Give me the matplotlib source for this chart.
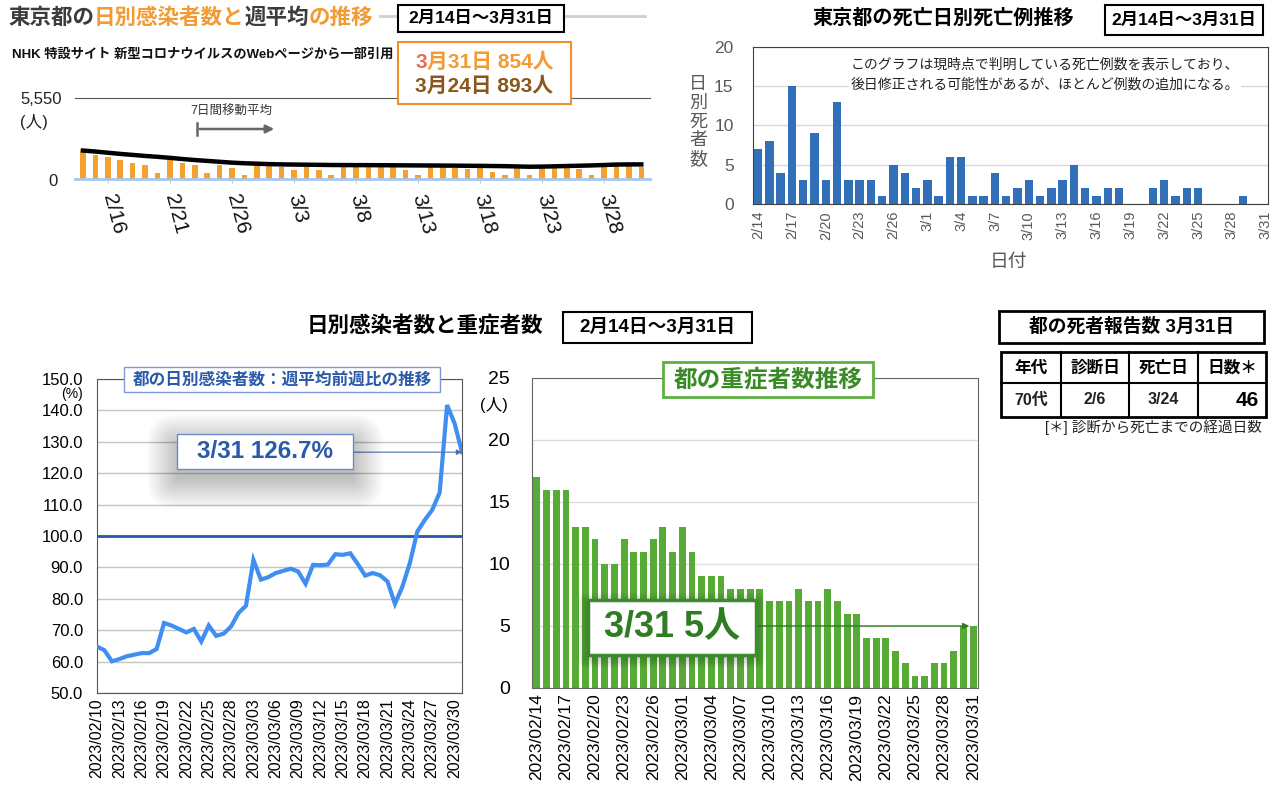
import matplotlib
matplotlib.use('Agg')
from matplotlib import pyplot as plt
from matplotlib.patches import Rectangle, FancyBboxPatch
import numpy as np
import pandas as pd

plt.rcParams['font.family'] = ['Liberation Sans', 'Noto Sans CJK JP', 'DejaVu Sans']

# ---- data ----
days = pd.date_range('2023-02-14', '2023-03-31')
days_ratio = pd.date_range('2023-02-10', '2023-03-31')

new_cases = [2075, 1665, 1505, 1280, 1095, 935, 410, 1280, 1095, 935,
             410, 935, 755, 250, 980, 935, 820, 595, 865, 595,
             250, 820, 820, 800, 800, 790, 600, 250, 810, 800,
             780, 700, 720, 450, 280, 720, 260, 760, 893, 720,
             700, 300, 1000, 1050, 1000, 854]
avg7 = [1950, 1880, 1800, 1720, 1650, 1580, 1520, 1450, 1370, 1300,
        1240, 1180, 1120, 1080, 1050, 1020, 1000, 990, 980, 970,
        960, 955, 950, 950, 945, 940, 935, 930, 925, 920,
        915, 905, 900, 890, 880, 860, 840, 850, 870, 890,
        910, 930, 960, 990, 1000, 1000]
deaths = [7, 8, 4, 15, 3, 9, 3, 13, 3, 3, 3, 1, 5, 4, 2, 3, 1, 6, 6, 1, 1, 4, 1,
          2, 3, 1, 2, 3, 5, 2, 1, 2, 2, 0, 0, 2, 3, 1, 2, 2, 0, 0, 0, 1, 0, 0]
severe = [17, 16, 16, 16, 13, 13, 12, 10, 10, 12, 11, 11, 12, 13, 11, 13, 11, 9, 9, 9,
          8, 8, 8, 8, 7, 7, 7, 8, 7, 7, 8, 7, 6, 6, 4, 4, 4, 3, 2, 1, 1, 2, 2, 3, 5, 5]
ratio = [64.8, 63.6, 60.1, 60.8, 61.7, 62.2, 62.7, 62.7, 64.0, 72.3,
         71.5, 70.4, 69.3, 70.4, 66.4, 71.5, 68.2, 68.9, 71.2, 75.5,
         77.8, 92.4, 86.1, 86.9, 88.2, 88.9, 89.6, 88.7, 84.8, 90.8,
         90.7, 90.9, 94.2, 94.0, 94.5, 91.1, 87.4, 88.2, 87.5, 85.5,
         78.4, 83.9, 91.4, 101.4, 105.1, 108.3, 113.8, 141.7, 135.9, 126.7]

table_head = ['年代', '診断日', '死亡日', '日数＊']
table_row = ['70代', '2/6', '3/24', '46']

ORANGE = '#f39a33'
DARK = '#3c3c3c'
BLUE_TXT = '#2a5aa8'

W, H = 1280, 799
fig = plt.figure(figsize=(12.8, 7.99), dpi=100)


def rect(x0, y0, x1, y1):
    return [x0 / W, 1 - y1 / H, (x1 - x0) / W, (y1 - y0) / H]


# overlay in pixel units for the free text and boxes
ov = fig.add_axes([0, 0, 1, 1], zorder=5)
ov.set_xlim(0, W)
ov.set_ylim(H, 0)
ov.axis('off')


def boxed(x0, y0, x1, y1, txt, size, color='black', ec='black', lw=1.5, weight='bold'):
    ov.add_patch(Rectangle((x0, y0), x1 - x0, y1 - y0, fc='white', ec=ec, lw=lw, zorder=3))
    ov.text((x0 + x1) / 2, (y0 + y1) / 2, txt, ha='center', va='center',
            fontsize=size, color=color, weight=weight, zorder=4)


def color_line(x, y, parts, **kw):
    r = fig.canvas.get_renderer()
    for s, c in parts:
        t = ov.text(x, y, s, color=c, ha='left', va='center', zorder=4, **kw)
        x += t.get_window_extent(renderer=r).width


def shadow(x0, y0, x1, y1, n=14, step=2.2, alpha=0.02, dy=6):
    for k in range(n):
        e = k * step
        ov.add_patch(FancyBboxPatch((x0 - e, y0 - e + dy), x1 - x0 + 2 * e, y1 - y0 + 2 * e,
                                    boxstyle='round,pad=0,rounding_size=%f' % max(e, 0.1),
                                    fc='black', ec='none', alpha=alpha, zorder=2))


# ---------------- top left: NHK daily cases ----------------
ov.plot([380, 645], [16, 16], color='#cfcfcf', lw=2, zorder=1)
color_line(8, 18, [('東京都の', DARK), ('日別感染者数と', ORANGE), ('週平均', DARK), ('の推移', ORANGE)],
           fontsize=15.5, weight='bold')
boxed(398, 5, 564, 32, '2月14日〜3月31日', 12.5)
ov.text(12, 55, 'NHK 特設サイト 新型コロナウイルスのWebページから一部引用', fontsize=9.5,
        weight='bold', va='center', color='#111111')
ov.add_patch(Rectangle((398, 42), 173, 62, fc='white', ec='#f0902a', lw=1.5, zorder=3))
color_line(415, 62, [('3', '#ec6a5c'), ('月31日 854人', ORANGE)], fontsize=15, weight='bold')
color_line(415, 86, [('3月24日 893人', '#8b561c')], fontsize=15, weight='bold')
ov.text(20, 100, '5,550', fontsize=12, va='center', color='#222222')
ov.text(20, 122, '(人)', fontsize=12, va='center', color='#222222')
ov.text(48, 181, '0', fontsize=12, va='center', color='#222222')
ov.text(231, 112, '7日間移動平均', fontsize=9, ha='center', va='center', color='#333333')
ov.plot([197, 197], [123, 135], color='#666666', lw=1.8)
ov.annotate('', xy=(277, 129), xytext=(197, 129),
            arrowprops=dict(arrowstyle='-|>', color='#666666', lw=1.8, mutation_scale=12))

ax1 = fig.add_axes(rect(75, 98, 650, 179))
x1 = np.arange(len(new_cases))
ax1.bar(x1, new_cases, width=0.45, color='#f5a130', zorder=2)
ax1.plot(x1, avg7, color='black', lw=3.2, zorder=3)
ax1.set_xlim(-0.65, 45.7)
ax1.set_ylim(0, 5550)
ax1.set_yticks([])
t1 = list(range(2, len(days), 5))
ax1.set_xticks(t1)
ax1.set_xticklabels([f'{days[i].month}/{days[i].day}' for i in t1], rotation=-75,
                    rotation_mode='anchor', ha='left', va='center', fontsize=15, color='#111111')
ax1.tick_params(axis='x', length=3, color='#cccccc', pad=8)
for s in ['left', 'right']:
    ax1.spines[s].set_visible(False)
ax1.spines['top'].set_color('#555555')
ax1.spines['bottom'].set_color('#a9c6ee')
ax1.spines['bottom'].set_linewidth(2)

# ---------------- top right: deaths ----------------
ov.text(943, 18, '東京都の死亡日別死亡例推移', fontsize=14.5, weight='bold', ha='center', va='center')
boxed(1105, 5, 1263, 35, '2月14日〜3月31日', 12.5)

ax2 = fig.add_axes(rect(753, 47, 1268, 204))
x2 = np.arange(len(deaths))
ax2.bar(x2, deaths, width=0.75, color='#3170b8', zorder=2)
ax2.set_xlim(-0.45, 45.2)
ax2.set_ylim(0, 20)
ax2.set_yticks([0, 5, 10, 15, 20])
ax2.grid(axis='y', color='#d9d9d9', lw=1, zorder=0)
t2 = list(range(0, len(days), 3))
ax2.set_xticks(t2)
ax2.set_xticklabels([f'{days[i].month}/{days[i].day}' for i in t2], rotation=90, fontsize=10.5,
                    color='#595959')
ax2.tick_params(axis='y', labelsize=12.5, labelcolor='#595959', length=0, pad=14)
ax2.tick_params(axis='x', length=0, pad=5)
for s in ax2.spines.values():
    s.set_color('#404040')
ov.text(698, 122, '日\n別\n死\n者\n数', fontsize=13, ha='center', va='center', color='#595959',
        linespacing=1.12)
ov.text(1008, 262, '日付', fontsize=13.5, ha='center', va='center', color='#595959')
for yy, line in [(65, 'このグラフは現時点で判明している死亡例数を表示しており、'),
                 (85, '後日修正される可能性があるが、ほとんど例数の追加になる。')]:
    ov.text(1045, yy, line, fontsize=10, ha='center', va='center', color='#222222',
            bbox=dict(fc='white', ec='none', pad=1.5))

# ---------------- bottom titles ----------------
ov.text(425, 327, '日別感染者数と重症者数', fontsize=15.5, weight='bold', ha='center', va='center')
boxed(563, 312, 752, 343, '2月14日〜3月31日', 13.5)

# ---------------- bottom left: week-over-week ratio ----------------
ax3 = fig.add_axes(rect(97, 379, 462, 693))
x3 = np.arange(len(ratio))
ax3.plot(x3, ratio, color='#3f8ff2', lw=3, zorder=3, solid_joinstyle='miter')
ax3.axhline(100, color='#2457a5', lw=2, zorder=2)
ax3.set_xlim(0, len(ratio) - 1)
ax3.set_ylim(50, 150)
ax3.set_yticks(np.arange(50, 151, 10))
ax3.set_yticklabels([f'{v:.1f}' for v in np.arange(50, 151, 10)])
ax3.grid(axis='y', color='#c4c4c4', lw=1, zorder=0)
t3 = list(range(0, len(ratio), 3))
ax3.set_xticks(t3)
ax3.set_xticklabels([days_ratio[i].strftime('%Y/%m/%d') for i in t3], rotation=90, fontsize=11.5)
ax3.tick_params(axis='y', labelsize=12, length=0, pad=10)
ax3.tick_params(axis='x', length=0, pad=4)
for s in ax3.spines.values():
    s.set_color('#555555')
ov.text(72, 394, '(%)', fontsize=10, ha='center', va='center')
ov.add_patch(Rectangle((124, 367), 316, 25, fc='white', ec='#7c9bd6', lw=1, zorder=3))
ov.text(282, 379.5, '都の日別感染者数：週平均前週比の推移', fontsize=12, weight='bold', ha='center',
        va='center', color=BLUE_TXT, zorder=4)
shadow(177, 434, 353, 469, n=16, step=2.0, alpha=0.014, dy=10)
boxed(177, 434, 353, 469, '3/31 126.7%', 17.5, color=BLUE_TXT, ec='#6a8bcc', lw=1)
ax3.annotate('', xy=(len(ratio) - 1, ratio[-1]), xytext=((353 - 97) / 365, ratio[-1]),
             xycoords='data', textcoords=('axes fraction', 'data'),
             arrowprops=dict(arrowstyle='-|>', color='#4a6fb0', lw=0.8, mutation_scale=8,
                             shrinkA=0, shrinkB=0), annotation_clip=False)

# ---------------- bottom middle: severe cases ----------------
ax4 = fig.add_axes(rect(532, 378, 978, 688))
x4 = np.arange(len(severe))
ax4.bar(x4, severe, width=0.7, color='#55ab35', zorder=2)
ax4.set_xlim(-0.5, len(severe) - 0.5)
ax4.set_ylim(0, 25)
ax4.set_yticks([0, 5, 10, 15, 20, 25])
ax4.grid(axis='y', color='#dddddd', lw=1, zorder=0)
t4 = list(range(0, len(severe), 3))
ax4.set_xticks(t4)
ax4.set_xticklabels([days[i].strftime('%Y/%m/%d') for i in t4], rotation=90, fontsize=12.5)
ax4.tick_params(axis='y', labelsize=14, length=0, pad=16)
ax4.tick_params(axis='x', length=0, pad=4)
for s in ax4.spines.values():
    s.set_color('#666666')
ov.text(494, 405, '(人)', fontsize=12, ha='center', va='center')
boxed(663, 362, 873, 397, '都の重症者数推移', 17, color='#3a8a28', ec='#5cb040', lw=2)
shadow(588, 600, 756, 655, n=6, step=2, alpha=0.04, dy=3)
boxed(588, 600, 756, 655, '3/31 5人', 26, color='#2e7d22', ec='#3d8b2f', lw=2.5)
ax4.annotate('', xy=(len(severe) - 1.4, severe[-1]), xytext=((756 - 532) / 446, severe[-1]),
             xycoords='data', textcoords=('axes fraction', 'data'),
             arrowprops=dict(arrowstyle='-|>', color='#2e7d22', lw=1, mutation_scale=9,
                             shrinkA=0, shrinkB=0), annotation_clip=False)

# ---------------- bottom right: death report table ----------------
boxed(999, 311, 1264, 343, '都の死者報告数 3月31日', 13.5, lw=2)
cols = [1001, 1061, 1129, 1198, 1266]
ov.add_patch(Rectangle((1001, 352), 265, 65, fc='white', ec='black', lw=2, zorder=3))
ov.plot([1001, 1266], [383, 383], color='black', lw=1.5, zorder=4)
for cx in cols[1:-1]:
    ov.plot([cx, cx], [352, 417], color='black', lw=1.5, zorder=4)
for i in range(4):
    cx = (cols[i] + cols[i + 1]) / 2
    ov.text(cx, 368, table_head[i], fontsize=12, weight='bold', ha='center', va='center', zorder=5)
    if i < 3:
        ov.text(cx, 400, table_row[i], fontsize=11.5, weight='bold', ha='center', va='center',
                zorder=5, color='#222222')
    else:
        ov.text(cols[i + 1] - 7, 400, table_row[i], fontsize=15, weight='bold', ha='right',
                va='center', zorder=5)
ov.text(1262, 427, '[＊] 診断から死亡までの経過日数', fontsize=10.5, ha='right', va='center',
        color='#222222')

fig.savefig('out.png', dpi=100)
